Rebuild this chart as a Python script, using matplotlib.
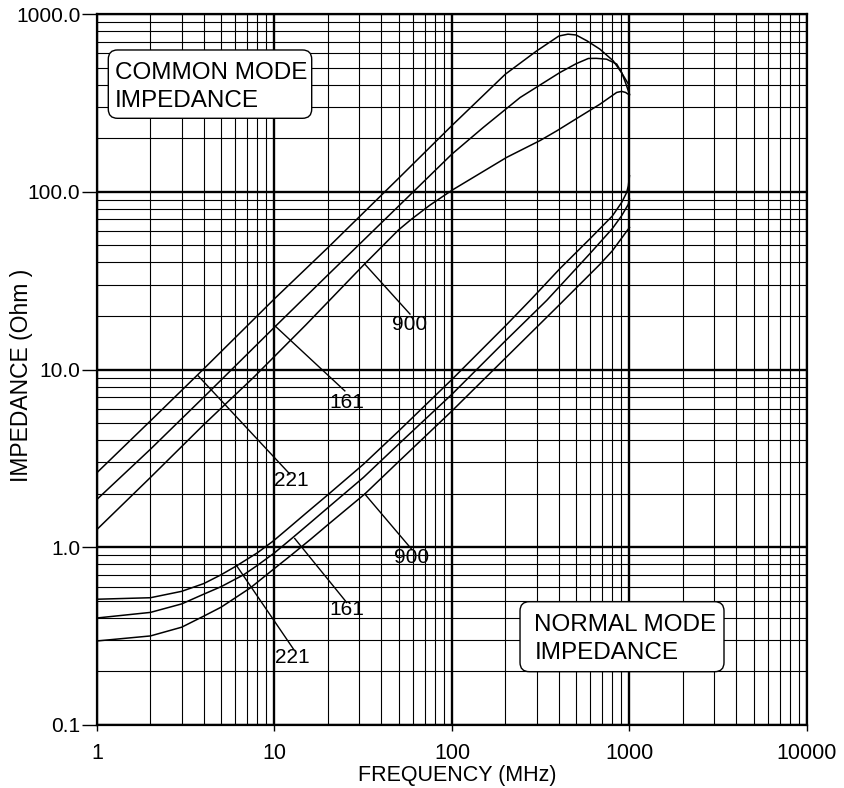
import numpy as np
import matplotlib
matplotlib.use('Agg')
import matplotlib.pyplot as plt
from matplotlib.patches import FancyBboxPatch
from matplotlib.ticker import LogLocator, FixedLocator, FixedFormatter, NullFormatter

plt.rcParams['font.family'] = ['Liberation Sans', 'DejaVu Sans']

# common mode impedance curves (MHz, Ohm)
f_cm221 = [1, 2, 4, 10, 20, 50, 100, 200, 300, 400, 450, 500, 575, 680, 810, 900, 1000]
z_cm221 = [2.63, 5.14, 10.1, 25, 48.5, 119, 236, 459, 620, 752, 770, 762, 707, 635, 545, 469, 394]
f_cm161 = [1, 2, 4, 10, 19, 50, 100, 150, 242, 406, 500, 586, 650, 743, 847, 903, 950, 1000]
z_cm161 = [1.86, 3.56, 7.0, 17.3, 32.4, 83, 163, 230, 339, 469, 525, 562, 563, 557, 523, 469, 410, 354]
f_cm900 = [1, 2, 4, 7.6, 15, 32, 50, 59, 75, 100, 203, 313, 389, 500, 682, 847, 903, 950, 1000]
z_cm900 = [1.26, 2.47, 4.9, 9.0, 17.8, 39, 61, 70, 84, 102, 156, 194, 220, 257, 311, 362, 367, 362, 350]

# normal mode impedance curves
f_nm221 = [1, 2, 3, 4, 5, 6.1, 8, 9.85, 12.2, 15, 19.7, 31.7, 50, 100, 200, 281, 406, 600, 800, 903, 964, 985, 1000]
z_nm221 = [0.51, 0.52, 0.565, 0.625, 0.70, 0.785, 0.93, 1.085, 1.30, 1.55, 1.95, 2.93, 4.5, 8.8, 17.6, 25, 37, 54.5, 73, 87, 99, 108, 123]
f_nm161 = [1, 2, 3, 4, 5, 6.7, 8, 10, 12.5, 16, 20, 31.7, 50, 100, 200, 342, 406, 600, 800, 903, 985, 1000]
z_nm161 = [0.40, 0.43, 0.48, 0.545, 0.60, 0.70, 0.79, 0.93, 1.12, 1.38, 1.67, 2.47, 3.8, 7.26, 14.5, 24.5, 29.5, 45, 62, 73.3, 85, 91]
f_nm900 = [1, 2, 3, 4, 5, 7.3, 10, 12.2, 16, 20, 32.2, 50, 100, 200, 397, 682, 800, 1000]
z_nm900 = [0.297, 0.317, 0.355, 0.41, 0.46, 0.59, 0.76, 0.89, 1.11, 1.34, 1.99, 3.03, 5.85, 11.6, 22.8, 39.1, 46.5, 63]

# callouts: label, line start, line end, text position (left, middle)
callouts = [
    ('221', (3.72, 9.2), (12.2, 2.58), (9.94, 2.37)),
    ('161', (10.06, 17.6), (24.9, 7.58), (20.5, 6.55)),
    ('900', (32.3, 39.1), (58, 20.5), (45.9, 17.8)),
    ('221', (6.13, 0.785), (12.8, 0.267), (10.06, 0.239)),
    ('161', (13.0, 1.12), (25.5, 0.489), (20.3, 0.445)),
    ('900', (32.3, 1.99), (59.3, 0.974), (47.1, 0.873)),
]

x_ticks = [1, 10, 100, 1000, 10000]
x_labels = ['1', '10', '100', '1000', '10000']
y_ticks = [0.1, 1, 10, 100, 1000]
y_labels = ['0.1', '1.0', '10.0', '100.0', '1000.0']

fig = plt.figure(figsize=(8.45, 7.88), dpi=100)
ax = fig.add_axes([97/845, 1 - 725/788, 710/845, 711/788])
ax.set_xscale('log')
ax.set_yscale('log')
ax.set_xlim(1, 10000)
ax.set_ylim(0.1, 1000)

for f, z in [(f_cm221, z_cm221), (f_cm161, z_cm161), (f_cm900, z_cm900),
             (f_nm221, z_nm221), (f_nm161, z_nm161), (f_nm900, z_nm900)]:
    ax.plot(f, z, color='black', lw=1.1, zorder=3)

for lab, p0, p1, pt in callouts:
    ax.plot([p0[0], p1[0]], [p0[1], p1[1]], color='black', lw=1.0, zorder=3)
    ax.text(pt[0], pt[1], lab, fontsize=15, ha='left', va='center', zorder=4)

ax.xaxis.set_major_locator(FixedLocator(x_ticks))
ax.xaxis.set_major_formatter(FixedFormatter(x_labels))
ax.yaxis.set_major_locator(FixedLocator(y_ticks))
ax.yaxis.set_major_formatter(FixedFormatter(y_labels))
ax.xaxis.set_minor_locator(LogLocator(base=10, subs=np.arange(2, 10), numticks=20))
ax.yaxis.set_minor_locator(LogLocator(base=10, subs=np.arange(2, 10), numticks=20))
ax.xaxis.set_minor_formatter(NullFormatter())
ax.yaxis.set_minor_formatter(NullFormatter())

ax.grid(which='major', color='black', lw=1.7, zorder=1)
ax.grid(which='minor', color='black', lw=0.8, zorder=1)
ax.set_axisbelow(True)
ax.tick_params(axis='y', which='major', direction='out', length=11, width=1.0, pad=1, labelsize=15)
ax.tick_params(axis='x', which='major', direction='out', length=4, width=1.0, pad=9, labelsize=15.5)
ax.tick_params(which='minor', length=0)
for s in ax.spines.values():
    s.set_linewidth(1.6)

# text boxes
for (x0, y0, x1, y1), (tx, ty), txt in [
        ((0.0159, 0.8533, 0.3024, 0.9494), (0.0254, 0.8973), 'COMMON MODE\nIMPEDANCE'),
        ((0.5958, 0.075, 0.8831, 0.1734), (0.616, 0.121), 'NORMAL MODE\nIMPEDANCE')]:
    box = FancyBboxPatch((x0, y0), x1 - x0, y1 - y0, boxstyle='round,pad=0,rounding_size=0.013',
                         transform=ax.transAxes, fc='white', ec='black', lw=1.0, zorder=5)
    ax.add_patch(box)
    ax.text(tx, ty, txt, transform=ax.transAxes, fontsize=17.5, ha='left', va='center',
            linespacing=1.3, zorder=6)

fig.text(457/845, 1 - 776/788, 'FREQUENCY (MHz)', fontsize=15.5, ha='center', va='center')
fig.text(22/845, 1 - 375/788, 'IMPEDANCE (Ohm )', fontsize=16.5, rotation=90,
         ha='center', va='center')

fig.savefig('out.png', dpi=100)
